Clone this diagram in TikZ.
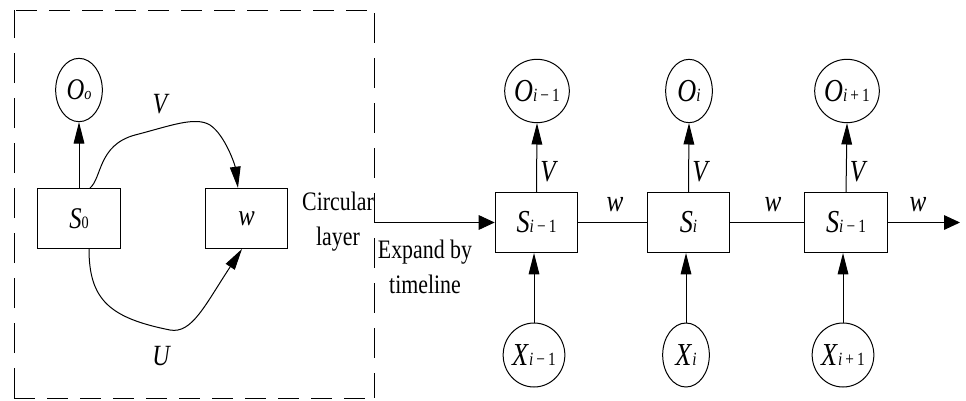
\documentclass[tikz,border=0pt]{standalone}
\usepackage{fontspec}
\setmainfont[FakeStretch=0.82]{Liberation Serif}
\usetikzlibrary{arrows.meta,shapes.geometric}
\newcommand\symA[2]{\textit{#1}{\fontsize{13}{13}\selectfont #2}}
\newcommand\symB[2]{\textit{#1}{\fontsize{14}{14}\selectfont #2}}
\newcommand\im{\textit{i}\,−\,1}
\newcommand\ip{\textit{i}\,+\,1}
\begin{document}
\begin{tikzpicture}[x=0.75pt,y=-0.75pt,line width=0.75pt,
  box/.style={draw,minimum width=62pt,minimum height=45pt,inner sep=0pt},
  oval/.style={draw,ellipse,minimum width=35pt,minimum height=47.5pt,inner sep=0pt},
  varr/.style={-{Triangle[length=16pt,width=8pt]}},
  harr/.style={-{Triangle[length=12pt,width=11pt]}},
  labA/.style={font=\fontsize{22.5}{22.5}\selectfont},
  labB/.style={font=\fontsize{24}{24}\selectfont},
  txt/.style={font=\fontsize{20}{24}\selectfont,anchor=base},
  hdash/.style={dash pattern=on 15.75pt off 9pt},
  vdash/.style={dash pattern=on 22.5pt off 11.25pt}]
\useasboundingbox (0,0) rectangle (966,400);
% dashed frame
\draw[hdash] (16,10) -- (374,10);
\draw[hdash] (14,398) -- (374,398);
\draw[vdash] (14,398) -- (14,10);
\draw[vdash] (374,13) -- (374,398);
% left part
\node[box,labA] (S0) at (79,218.5) {\symA{S}{0}};
\node[box,labA] (W) at (246.5,218.5) {\textit{w}};
\node[oval,labA] (O0) at (79,90) {\symA{O}{\textit{o}}};
\draw[varr] (S0.north) -- (O0.south);
\draw[varr] ([xshift=8.25pt]S0.north) .. controls (102,178) and (98,145) .. (135,135)
  .. controls (170,126) and (195,116) .. (210,125)
  .. controls (225,135) and (235,165) .. ([xshift=-6.4pt]W.north);
\draw[varr] ([xshift=7.5pt]S0.south) .. controls (89,300) and (110,318) .. (170,330)
  .. controls (192,334) and (205,305) .. ([xshift=-3.4pt]W.south);
\node[font=\fontsize{22}{22}\selectfont\itshape] (lV) at (160,104) {V};
\node[font=\fontsize{22}{22}\selectfont\itshape] (lU) at (161,356) {U};
\node[txt] (c1) at (338,210) {Circular};
\node[txt] (c2) at (338,245) {layer};
\node[txt] (e1) at (425,258) {Expand by};
\node[txt] (e2) at (425,293) {timeline};
% right part
\node[box,labB] (S1) at (536.5,222.5) {\symB{S}{\im}};
\node[box,labB] (S2) at (688.5,222.5) {\symB{S}{\textit{i}}};
\node[box,labB] (S3) at (846,222.5) {\symB{S}{\im}};
\node[oval,labB] (O1) at (537,91) {\symB{O}{\im}};
\node[oval,labB] (O2) at (689,91) {\symB{O}{\textit{i}}};
\node[oval,labB] (O3) at (847,91) {\symB{O}{\ip}};
\node[oval,labB,minimum height=48pt] (X1) at (534,355) {\symB{X}{\im}};
\node[oval,labB,minimum height=48pt] (X2) at (686,355) {\symB{X}{\textit{i}}};
\node[oval,labB,minimum height=48pt] (X3) at (843,355) {\symB{X}{\ip}};
\coordinate (in) at (374,222.5);
\coordinate (out) at (960,222.5);
\draw[harr] (in) -- (S1.west);
\draw (S1.east) -- (S2.west);
\draw (S2.east) -- (S3.west);
\draw[harr] (S3.east) -- (out);
\foreach \s/\o in {S1/O1,S2/O2,S3/O3}{\draw[varr] (\s.north) -- (\o.south);}
\foreach \x/\s in {X1/S1,X2/S2,X3/S3}{\draw[varr] (\x.north) -- (\x.north |- \s.south);}
\node[font=\fontsize{23}{23}\selectfont\itshape] (v1) at (548,172) {V};
\node[font=\fontsize{23}{23}\selectfont\itshape] (v2) at (700,172) {V};
\node[font=\fontsize{23}{23}\selectfont\itshape] (v3) at (857.5,172) {V};
\node[font=\fontsize{23}{23}\selectfont\itshape] (w1) at (615,205) {w};
\node[font=\fontsize{23}{23}\selectfont\itshape] (w2) at (773,205) {w};
\node[font=\fontsize{23}{23}\selectfont\itshape] (w3) at (918,205) {w};
\end{tikzpicture}
\end{document}
